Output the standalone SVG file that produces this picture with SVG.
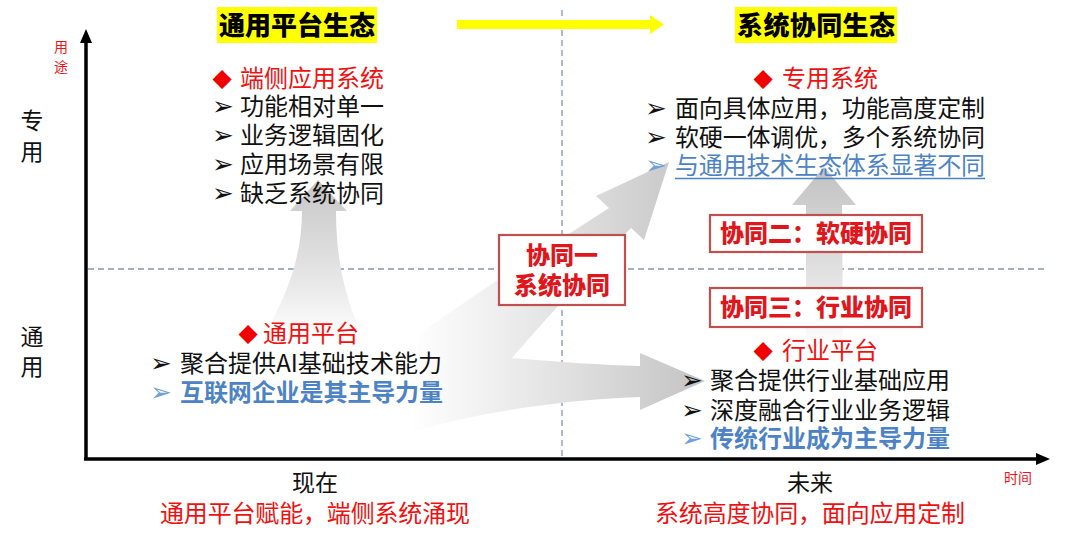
<svg xmlns="http://www.w3.org/2000/svg" width="1080" height="543" viewBox="0 0 1080 543">
<style>
.t{font-family:"Noto Sans CJK SC","Noto Sans CJK JP",sans-serif;font-size:24px;fill:#111}
.b{font-family:"DejaVu Sans","Noto Sans CJK SC",sans-serif;font-size:26px;font-weight:700;fill:#111}
.dm{font-family:"DejaVu Sans","Noto Sans CJK SC",sans-serif;font-size:25px;fill:#f00000}
.red{fill:#ee1111}
.blue{fill:#4d83c4;font-weight:700}
.bl{fill:#6fa0dc}
.hd{font-family:"Noto Sans CJK SC",sans-serif;font-size:26px;font-weight:900;fill:#000}
.bx{fill:#fff;stroke:#c0504d;stroke-width:2.2}
.bxt{font-family:"Noto Sans CJK SC",sans-serif;font-size:24px;font-weight:900;fill:#e0161c}
.ax{font-family:"Noto Sans CJK SC",sans-serif;font-size:23px;fill:#111}
.sm{font-family:"Noto Sans CJK SC",sans-serif;font-size:14px;fill:#e8141a}
.dash{stroke:#8497b0;stroke-width:1.3;stroke-dasharray:6 4;fill:none}
</style>
<defs>
<linearGradient id="gUp1" gradientUnits="userSpaceOnUse" x1="0" y1="178" x2="0" y2="340">
<stop offset="0" stop-color="#c6c6c6"/><stop offset="0.55" stop-color="#e2e2e2"/><stop offset="1" stop-color="#ffffff"/>
</linearGradient>
<linearGradient id="gSplit" gradientUnits="userSpaceOnUse" x1="410" y1="0" x2="700" y2="0">
<stop offset="0" stop-color="#ffffff"/><stop offset="0.4" stop-color="#e9e9e9"/><stop offset="1" stop-color="#c4c4c4"/>
</linearGradient>
<linearGradient id="gUp2" gradientUnits="userSpaceOnUse" x1="0" y1="167" x2="0" y2="348">
<stop offset="0" stop-color="#c2c2c2"/><stop offset="0.6" stop-color="#e2e2e2"/><stop offset="1" stop-color="#ffffff"/>
</linearGradient>
</defs>
<rect width="1080" height="543" fill="#fff"/>

<g id="guides">
<line class="dash" x1="88" y1="269" x2="1045" y2="269"/>
<line class="dash" x1="562" y1="10" x2="562" y2="458"/>
</g>

<g id="connectors">
<path id="arrow-up-left" fill="url(#gUp1)" d="M318,180 L347,211 L336,211 C336,260 345,300 364,338 L262,338 C285,300 302,260 302,211 L290,211 Z"/>
<path id="arrow-split" fill="url(#gSplit)" d="M418,335 C480,290 560,240 609,208 L596,196 L669,162 L644,240 L631,228 C590,270 545,320 512,358 C560,362 600,365 640,366 L640,353 L705,381 L640,410 L640,397 C560,400 480,412 412,432 Z"/>
<path id="arrow-up-right" fill="url(#gUp2)" d="M824,167 L856,205 L842,205 L843,348 L806,348 L806,205 L792,205 Z"/>
<path id="arrow-yellow" fill="#ffff00" d="M457,20 L650,20 L650,15 L664,24.5 L650,34 L650,29 L457,29 Z"/>
<g id="axes" stroke="#000" stroke-width="3.5" fill="none">
<line x1="86" y1="460" x2="86" y2="40"/>
<line x1="84" y1="459" x2="1040" y2="459"/>
</g>
<path d="M86,29 L80,43 L92,43 Z" fill="#000"/>
<path d="M1050,459 L1036,453 L1036,465 Z" fill="#000"/>
</g>

<g id="axis-labels">
<text class="sm" x="61" y="52" text-anchor="middle">用</text>
<text class="sm" x="61" y="72" text-anchor="middle">途</text>
<text class="ax" x="32" y="129" text-anchor="middle">专</text>
<text class="ax" x="32" y="160" text-anchor="middle">用</text>
<text class="ax" x="32" y="345" text-anchor="middle">通</text>
<text class="ax" x="32" y="375" text-anchor="middle">用</text>
<text class="sm" x="1018" y="483" text-anchor="middle">时间</text>
<text class="ax" x="315" y="491" text-anchor="middle">现在</text>
<text class="t red" x="315" y="522" text-anchor="middle" textLength="310" lengthAdjust="spacing">通用平台赋能，端侧系统涌现</text>
<text class="ax" x="810" y="491" text-anchor="middle">未来</text>
<text class="t red" x="810" y="522" text-anchor="middle" textLength="310" lengthAdjust="spacing">系统高度协同，面向应用定制</text>
</g>

<g id="header-left">
<rect x="217" y="7" width="160" height="36" fill="#ffff00"/>
<text class="hd" x="297" y="35" text-anchor="middle" textLength="156" lengthAdjust="spacing">通用平台生态</text>
</g>
<g id="header-right">
<rect x="735" y="7" width="162" height="36" fill="#ffff00"/>
<text class="hd" x="816" y="35" text-anchor="middle" textLength="158" lengthAdjust="spacing">系统协同生态</text>
</g>

<g id="node-edge-systems">
<text class="dm" x="222" y="86" text-anchor="middle">◆</text>
<text class="t red" x="240" y="87">端侧应用系统</text>
<text class="b" x="223" y="115" text-anchor="middle">➢</text>
<text class="t" x="240" y="115">功能相对单一</text>
<text class="b" x="223" y="144" text-anchor="middle">➢</text>
<text class="t" x="240" y="144">业务逻辑固化</text>
<text class="b" x="223" y="173" text-anchor="middle">➢</text>
<text class="t" x="240" y="173">应用场景有限</text>
<text class="b" x="223" y="202" text-anchor="middle">➢</text>
<text class="t" x="240" y="202">缺乏系统协同</text>
</g>

<g id="node-dedicated-systems">
<text class="dm" x="763" y="86" text-anchor="middle">◆</text>
<text class="t red" x="782" y="87">专用系统</text>
<text class="b" x="656" y="117" text-anchor="middle">➢</text>
<text class="t" x="675" y="117" textLength="310" lengthAdjust="spacing">面向具体应用，功能高度定制</text>
<text class="b" x="656" y="146" text-anchor="middle">➢</text>
<text class="t" x="675" y="146" textLength="310" lengthAdjust="spacing">软硬一体调优，多个系统协同</text>
<text class="b bl" x="656" y="174" text-anchor="middle">➢</text>
<text class="t" x="675" y="174" textLength="310" lengthAdjust="spacing" style="fill:#4d83c4">与通用技术生态体系显著不同</text>
<line x1="675" y1="178.5" x2="985" y2="178.5" stroke="#4d83c4" stroke-width="1.6"/>
</g>

<g id="node-general-platform">
<text class="dm" x="248" y="341" text-anchor="middle">◆</text>
<text class="t red" x="263" y="342">通用平台</text>
<text class="b" x="161" y="372" text-anchor="middle">➢</text>
<text class="t" x="180" y="372" textLength="262" lengthAdjust="spacingAndGlyphs">聚合提供AI基础技术能力</text>
<text class="b bl" x="161" y="401" text-anchor="middle">➢</text>
<text class="t blue" x="180" y="401" textLength="263" lengthAdjust="spacing">互联网企业是其主导力量</text>
</g>

<g id="node-industry-platform">
<text class="dm" x="763" y="358" text-anchor="middle">◆</text>
<text class="t red" x="782" y="359">行业平台</text>
<text class="b" x="692" y="389" text-anchor="middle">➢</text>
<text class="t" x="710" y="389">聚合提供行业基础应用</text>
<text class="b" x="692" y="419" text-anchor="middle">➢</text>
<text class="t" x="710" y="419">深度融合行业业务逻辑</text>
<text class="b bl" x="692" y="447" text-anchor="middle">➢</text>
<text class="t blue" x="710" y="447">传统行业成为主导力量</text>
</g>

<g id="node-synergy-1">
<rect class="bx" x="499" y="235" width="126" height="70"/>
<text class="bxt" x="562" y="264" text-anchor="middle">协同一</text>
<text class="bxt" x="562" y="294" text-anchor="middle">系统协同</text>
</g>
<g id="node-synergy-2">
<rect class="bx" x="710" y="215" width="212" height="37"/>
<text class="bxt" x="816" y="242" text-anchor="middle">协同二：软硬协同</text>
</g>
<g id="node-synergy-3">
<rect class="bx" x="710" y="288" width="212" height="39"/>
<text class="bxt" x="816" y="316" text-anchor="middle">协同三：行业协同</text>
</g>
</svg>
